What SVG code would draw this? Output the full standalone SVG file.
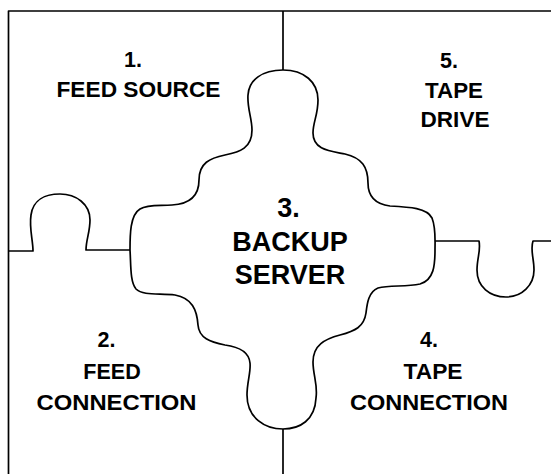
<svg xmlns="http://www.w3.org/2000/svg" width="551" height="474" viewBox="0 0 551 474">
  <style>
    .seam { fill: none; stroke: #000; stroke-width: 1.7; stroke-linejoin: round; stroke-linecap: butt; }
    .piece { fill: #fff; stroke: #000; stroke-width: 1.7; stroke-linejoin: round; }
    .lbl { font-family: "Liberation Sans", Arial, Helvetica, sans-serif; font-weight: bold; font-size: 21.5px; fill: #000; text-anchor: middle; }
    .big { font-size: 27px; }
  </style>
  <rect x="0" y="0" width="551" height="474" fill="#fff"/>

  <!-- seams between the puzzle pieces -->
  <g id="seams">
    <path class="seam" d="M 551 11 H 8.5 V 474"/>
    <path class="seam" d="M 283 11 V 70"/>
    <path class="seam" d="M 283 429 V 474"/>
    <!-- left seam with knob -->
    <path class="seam" d="M 8.5 251 H 33 C 33 240 29 228 31 215 C 33 200 45 194 60 194 C 76 194 90 204 90 220 C 90 232 86 240 86 250 H 130"/>
    <!-- right seam with socket -->
    <path class="seam" d="M 435 241 H 479 C 481 250 477 258 477 270 C 477 287 490 297 506 297 C 522 297 534 285 534 270 C 534 258 530 250 533 241 H 551"/>
  </g>

  <g id="feed-source">
    <text class="lbl" x="133" y="67">1.</text>
    <text class="lbl" x="138.5" y="97" textLength="164" lengthAdjust="spacingAndGlyphs">FEED SOURCE</text>
  </g>

  <g id="tape-drive">
    <text class="lbl" x="449" y="68">5.</text>
    <text class="lbl" x="454" y="98" textLength="58" lengthAdjust="spacingAndGlyphs">TAPE</text>
    <text class="lbl" x="455" y="127" textLength="69" lengthAdjust="spacingAndGlyphs">DRIVE</text>
  </g>

  <g id="feed-connection">
    <text class="lbl" x="106.5" y="347">2.</text>
    <text class="lbl" x="112" y="378.5">FEED</text>
    <text class="lbl" x="116.5" y="410" textLength="160" lengthAdjust="spacingAndGlyphs">CONNECTION</text>
  </g>

  <g id="tape-connection">
    <text class="lbl" x="429" y="347">4.</text>
    <text class="lbl" x="433" y="378.5" textLength="59" lengthAdjust="spacingAndGlyphs">TAPE</text>
    <text class="lbl" x="429" y="410" textLength="158" lengthAdjust="spacingAndGlyphs">CONNECTION</text>
  </g>

  <g id="backup-server">
    <path class="piece" d="M 283 70
      C 304 70 318 82 318 100
      C 318 115 313 122 313 133
      C 313 150 330 151 345 154
      C 362 158 368 167 368 183
      C 368 195 374 204 390 206
      C 410 207 427 208 432 218
      C 436 228 435 240 435 250
      C 435 265 434 280 420 284
      C 405 287 390 285 378 288
      C 368 292 367 305 366 313
      C 364 327 355 331 340 335
      C 325 339 313 345 313 362
      C 313 375 318 385 316 398
      C 315 420 300 429 283 429
      C 265 429 247 418 247 395
      C 247 382 251 372 250 363
      C 249 352 240 347 225 345
      C 210 342 199 338 198 325
      C 197 310 192 298 175 295
      C 160 293 143 296 136 289
      C 130 282 131 265 130 250
      C 130 235 130 215 140 209
      C 148 204 160 206 172 205
      C 190 204 199 195 199 180
      C 199 163 210 158 225 155
      C 240 152 252 148 252 130
      C 252 118 247 108 248 95
      C 249 80 262 70 283 70 Z"/>
    <text class="lbl big" x="288.5" y="217">3.</text>
    <text class="lbl big" x="290" y="251">BACKUP</text>
    <text class="lbl big" x="290" y="283.5">SERVER</text>
  </g>
</svg>
